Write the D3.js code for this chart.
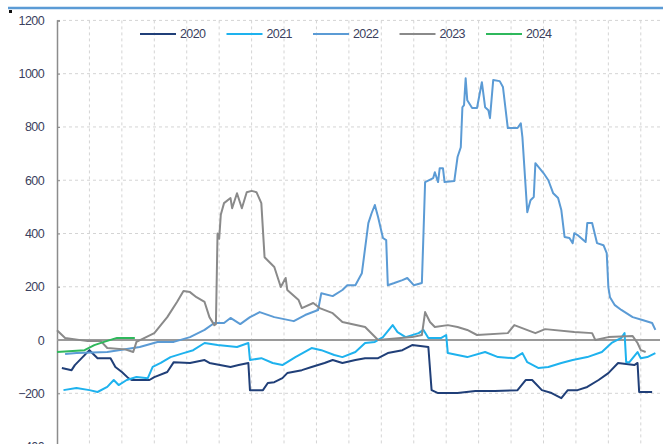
<!DOCTYPE html>
<html>
<head>
<meta charset="utf-8">
<script src="https://cdn.jsdelivr.net/npm/d3@7"></script>
<style>
  html, body { margin: 0; padding: 0; background: #fff; overflow: hidden; }
  svg { display: block; font-family: "Liberation Sans", Arial, sans-serif; }
</style>
</head>
<body>
<svg id="chart" width="663" height="444"></svg>
<script>
// series: [day of year, value]
const years = ["2020", "2021", "2022", "2023", "2024"];
const colors = ["#203f78", "#1eb2ee", "#5b9bd5", "#8a8a8a", "#2fb85c"];
const yTicks = [-400, -200, 0, 200, 400, 600, 800, 1000, 1200];

const s2020 = [[3,-105],[9,-113],[11,-94],[20,-38],[25,-68],[33,-68],[36,-101],[40,-120],[44,-143],[46,-150],
  [57,-150],[60,-139],[68,-120],[72,-83],[82,-86],[91,-75],[94,-86],[107,-101],[112,-94],[118,-86],[119,-188],
  [127,-188],[130,-161],[134,-158],[139,-143],[142,-124],[151,-113],[157,-101],[165,-86],[170,-75],[176,-86],
  [184,-75],[190,-68],[198,-68],[204,-49],[213,-38],[219,-19],[229,-26],[231,-188],[235,-199],[247,-199],
  [258,-191],[270,-191],[284,-188],[289,-150],[293,-150],[299,-188],[305,-199],[311,-218],[315,-188],[321,-188],
  [327,-176],[334,-150],[340,-124],[346,-86],[356,-94],[358,-86],[359,-195],[367,-195]];

const s2021 = [[4,-188],[12,-180],[20,-188],[25,-195],[31,-176],[35,-150],[38,-169],[43,-150],[49,-139],[56,-143],
  [59,-101],[64,-86],[70,-64],[78,-49],[84,-38],[91,-11],[99,-19],[111,-26],[118,-11],[119,-75],[126,-68],
  [133,-86],[139,-94],[147,-64],[157,-30],[163,-38],[171,-56],[176,-64],[184,-45],[190,-11],[196,-7],[201,11],
  [207,56],[210,30],[215,11],[223,26],[226,38],[229,8],[237,8],[240,19],[241,-49],[247,-56],[253,-64],[264,-45],
  [272,-64],[282,-68],[287,-49],[290,-83],[297,-105],[303,-101],[311,-86],[318,-75],[327,-64],[336,-45],
  [342,-11],[348,8],[350,26],[351,-83],[353,-83],[358,-45],[360,-68],[364,-64],[369,-49]];

const s2022 = [[5,-52],[12,-49],[31,-45],[51,-26],[62,-7],[72,-7],[82,11],[91,38],[97,64],[103,64],[107,83],
  [113,60],[119,86],[125,105],[134,86],[146,71],[153,94],[161,113],[163,176],[170,165],[176,188],[179,206],
  [184,206],[188,251],[192,439],[194,476],[196,507],[198,462],[201,383],[203,375],[204,206],[208,214],[213,225],
  [216,233],[220,206],[225,214],[226,400],[227,593],[232,608],[233,630],[235,593],[236,645],[238,645],[239,593],
  [245,597],[247,687],[249,724],[250,874],[251,882],[252,983],[253,900],[256,871],[259,871],[262,968],[264,874],
  [266,863],[267,833],[269,976],[273,972],[275,950],[278,796],[284,796],[286,814],[287,762],[290,480],[292,525],
  [294,537],[295,664],[300,627],[303,600],[306,551],[309,533],[311,488],[313,387],[316,383],[318,364],[319,401],
  [321,394],[326,368],[327,439],[330,439],[333,364],[337,356],[339,326],[340,199],[341,161],[344,131],[348,113],
  [355,86],[361,75],[367,64],[369,38]];

const s2023 = [[0,37],[5,8],[19,-4],[27,-4],[31,-30],[42,-35],[47,-45],[49,-7],[60,26],[68,86],[74,143],[78,184],
  [82,180],[86,161],[91,143],[94,86],[97,56],[98,60],[99,400],[100,380],[101,470],[103,514],[107,533],[108,495],
  [111,551],[114,495],[117,555],[120,560],[123,555],[126,514],[128,311],[134,274],[138,199],[141,233],[142,188],
  [149,150],[151,120],[158,139],[162,120],[170,101],[176,68],[190,49],[198,0],[219,11],[225,19],[227,105],
  [230,68],[233,49],[241,56],[247,49],[253,38],[259,19],[278,26],[282,56],[295,26],[301,41],[319,30],[330,26],
  [332,0],[340,11],[355,15],[358,-11],[360,-38],[363,-45]];

const s2024 = [[0,-45],[17,-38],[23,-19],[29,-7],[37,8],[48,8]];

const seriesData = [s2020, s2021, s2022, s2023, s2024];

const svg = d3.select("#chart");
const x = d3.scaleLinear().domain([0, 370]).range([57, 657]);
const y = d3.scaleLinear().domain([-400, 1200]).range([446.6, 20.4]);
const plotRight = 660;

// header rule and marker
svg.append("line")
    .attr("x1", 8).attr("x2", 663).attr("y1", 8).attr("y2", 8)
    .attr("stroke", "#5b9bd5").attr("stroke-width", 2.5);
svg.append("rect")
    .attr("x", 9).attr("y", 10).attr("width", 3).attr("height", 3)
    .attr("fill", "#111");

// grid
const grid = svg.append("g");
grid.selectAll("line.h")
    .data(yTicks.filter(d => d !== 0))
    .enter().append("line")
    .attr("x1", x(0)).attr("x2", plotRight)
    .attr("y1", d => y(d)).attr("y2", d => y(d))
    .attr("stroke", "#d4d4d4").attr("stroke-width", 1)
    .attr("stroke-dasharray", "3,3");
grid.selectAll("line.v")
    .data(d3.range(20, 370, 20))
    .enter().append("line")
    .attr("x1", d => x(d)).attr("x2", d => x(d))
    .attr("y1", y(1200)).attr("y2", 444)
    .attr("stroke", "#d4d4d4").attr("stroke-width", 1)
    .attr("stroke-dasharray", "3,3");

// y axis
const yAxis = d3.axisLeft(y).tickValues(yTicks).tickSize(-3).tickPadding(13).tickFormat(d3.format("d"));
const ya = svg.append("g")
    .attr("transform", `translate(${x(0)},0)`)
    .call(yAxis);
ya.select(".domain").attr("stroke", "#8c8c8c").attr("stroke-width", 1.5);
ya.selectAll(".tick line").attr("stroke", "#8c8c8c");
ya.selectAll(".tick text")
    .attr("fill", "#3b3f5e")
    .style("font-size", "12.5px")
    .style("letter-spacing", "-0.6px");

// zero line
svg.append("line")
    .attr("x1", x(0)).attr("x2", plotRight)
    .attr("y1", y(0)).attr("y2", y(0))
    .attr("stroke", "#9a9a9a").attr("stroke-width", 2);

// series
const line = d3.line().x(d => x(d[0])).y(d => y(d[1]));
svg.append("g").selectAll("path")
    .data(seriesData)
    .enter().append("path")
    .attr("d", line)
    .attr("fill", "none")
    .attr("stroke", (d, i) => colors[i])
    .attr("stroke-width", 2)
    .attr("stroke-linejoin", "round");

// legend
const legend = svg.append("g").selectAll("g")
    .data(years)
    .enter().append("g")
    .attr("transform", (d, i) => `translate(${140 + i * 86.5},34)`);
legend.append("line")
    .attr("x1", 0).attr("x2", 36)
    .attr("stroke", (d, i) => colors[i])
    .attr("stroke-width", 2);
legend.append("text")
    .attr("x", 40).attr("dy", "0.35em")
    .attr("fill", "#3b3f5e")
    .style("font-size", "12.5px")
    .style("letter-spacing", "-0.6px")
    .text(d => d);
</script>
</body>
</html>
